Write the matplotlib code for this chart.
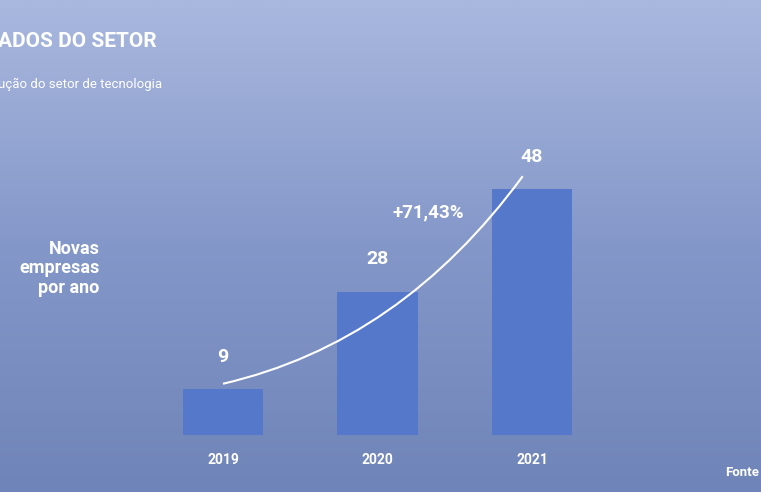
import numpy as np
import matplotlib.pyplot as plt
from matplotlib.path import Path
from matplotlib.patches import PathPatch
from matplotlib.colors import LinearSegmentedColormap

plt.rcParams['font.family'] = ['Roboto', 'DejaVu Sans']

years = ['2019', '2020', '2021']
novas_empresas = [9, 28, 48]
crescimento = '+71,43%'

fig = plt.figure(figsize=(7.61, 4.92), dpi=100)

# background in place of the photo
bg = fig.add_axes([0, 0, 1, 1])
grad = np.linspace(0, 1, 256).reshape(-1, 1)
cmap = LinearSegmentedColormap.from_list('bg', ['#a9b8de', '#8497c9', '#6f84b8'])
bg.imshow(grad, aspect='auto', cmap=cmap, extent=[0, 1, 0, 1])
bg.axis('off')

ax = fig.add_axes([0, 0, 1, 1])
ax.patch.set_alpha(0)
ax.set_xlim(-223 / 154.5, (761 - 223) / 154.5)
ax.set_ylim(-57 / 5.125, 435 / 5.125)
ax.axis('off')

x = np.arange(len(years))
ax.bar(x, novas_empresas, width=0.52, color='#5578cb')
for xi, v, yr in zip(x, novas_empresas, years):
    ax.text(xi, v + 4.5, str(v), ha='center', va='bottom', color='white',
            fontsize=14, fontweight='bold')
    ax.text(xi, -3.5, yr, ha='center', va='top', color='white',
            fontsize=10, fontweight='bold')

verts = [(0, 10), (1.15, 18), (1.94, 50.5)]
ax.add_patch(PathPatch(Path(verts, [Path.MOVETO, Path.CURVE3, Path.CURVE3]),
                       fill=False, edgecolor='white', lw=1.5))
ax.text(1.33, 43.5, crescimento, ha='center', va='center', color='white',
        fontsize=13.5, fontweight='bold')

fig.text(-0.003, 0.915, 'ADOS DO SETOR', color='white', fontsize=15,
         fontweight='bold', va='center', ha='left')
fig.text(-0.002, 0.828, 'ução do setor de tecnologia', color='white',
         fontsize=9.5, va='center', ha='left')
fig.text(0.131, 0.455, 'Novas\nempresas\npor ano', color='white', fontsize=13,
         fontweight='bold', va='center', ha='right', linespacing=1.1)
fig.text(0.953, 0.04, 'Fonte', color='white', fontsize=9.5,
         fontweight='bold', va='center', ha='left')

fig.savefig('out.png', dpi=100)
